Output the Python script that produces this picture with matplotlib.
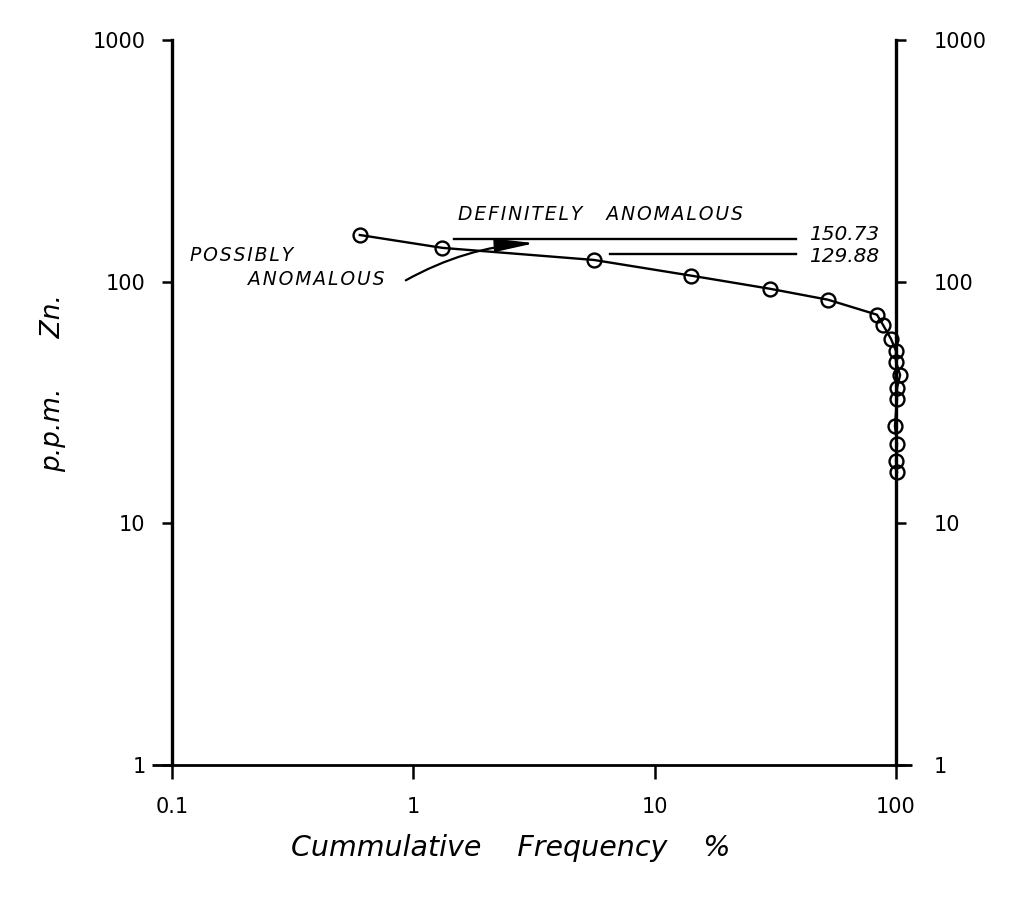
import matplotlib
matplotlib.use('Agg')
import matplotlib.pyplot as plt

# cumulative frequency (%) vs Zn (ppm)
cum_freq = [0.6, 1.32, 5.6, 14.1, 30.0, 52.3, 83.4, 88.3, 95.3, 100.0, 100.0,
            104.0, 101.0, 101.0, 99.0, 101.0, 100.0, 101.0]
zn_ppm = [156, 138, 123, 106, 93.5, 84.2, 73.0, 66.3, 58.0, 51.7, 46.6,
          41.1, 36.3, 32.7, 25.3, 21.3, 18.1, 16.3]

thresholds = [150.73, 129.88]
threshold_labels = ['150.73', '129.88']
threshold_from = [1.47, 6.5]   # where each threshold line starts (x)
threshold_to = 38.5
label_y = [157, 127]           # labels sit a touch off their lines

x_ticks = [0.1, 1, 10, 100]
x_ticklabels = ['0.1', '1', '10', '100']
y_ticks = [1, 10, 100, 1000]
y_ticklabels = ['1', '10', '100', '1000']

plt.rcParams['font.family'] = ['DejaVu Sans']


def spaced(s):
    # stencil lettering is widely spaced
    return '\u200a'.join(s)


fig = plt.figure(figsize=(10.35, 9.01), dpi=100)
ax = fig.add_axes([0.1662, 0.1509, 0.6995, 0.8047])
ax.set_xscale('log')
ax.set_yscale('log')
ax.set_xlim(0.1, 100)
ax.set_ylim(1, 1000)

ax.spines['top'].set_visible(False)
ax.spines['bottom'].set_visible(False)
ax.spines['left'].set_linewidth(2.4)
ax.spines['right'].set_linewidth(2.4)
# bottom line runs a bit past both side axes
ax.plot([-0.028, 1.022], [0, 0], transform=ax.transAxes, color='k', lw=2.0,
        clip_on=False, solid_capstyle='butt')

ax.set_xticks(x_ticks)
ax.set_xticklabels(x_ticklabels)
ax.set_yticks(y_ticks)
ax.set_yticklabels(y_ticklabels)
ax.minorticks_off()
ax.tick_params(axis='x', direction='out', length=10, width=1.8, pad=13,
               labelsize=15)
ax.tick_params(axis='y', direction='out', length=7, width=1.8, pad=12,
               labelsize=15, right=False)

ax2 = ax.twinx()
ax2.set_yscale('log')
ax2.set_ylim(1, 1000)
for s in ax2.spines.values():
    s.set_visible(False)
ax2.set_yticks(y_ticks)
ax2.set_yticklabels(y_ticklabels)
ax2.minorticks_off()
ax2.tick_params(axis='y', direction='out', length=7, width=1.8, pad=20,
                labelsize=15)

ax.plot(cum_freq, zn_ppm, color='k', lw=1.7, marker='o', mfc='none',
        mec='k', ms=10, mew=1.7, clip_on=False)

for i in range(len(thresholds)):
    ax.plot([threshold_from[i], threshold_to], [thresholds[i], thresholds[i]],
            color='k', lw=1.7)
    ax.text(43.5, label_y[i], threshold_labels[i], fontsize=14.5,
            style='italic', ha='left', va='center')

ax.text(5.97, 190, spaced('DEFINITELY') + '    ' + spaced('ANOMALOUS'),
        fontsize=13.5, style='italic', ha='center', va='center')
ax.text(0.1188, 128.3, spaced('POSSIBLY'), fontsize=13.5, style='italic',
        ha='left', va='center')
ax.text(0.2066, 102, spaced('ANOMALOUS'), fontsize=13.5, style='italic',
        ha='left', va='center')
ax.annotate('', xy=(3.27, 144.5), xytext=(0.909, 100),
            arrowprops=dict(arrowstyle='-|>,head_length=1.2,head_width=0.2',
                            connectionstyle='arc3,rad=-0.12',
                            color='k', lw=1.6, mutation_scale=20))

fig.text(511 / 1035, 1 - 848 / 901, 'Cummulative    Frequency    %',
         fontsize=20.5, style='italic', ha='center', va='center')
fig.text(53 / 1035, 1 - 383 / 901, 'p.p.m.      Zn.', fontsize=19,
         style='italic', rotation=90, ha='center', va='center')

fig.savefig('out.png', dpi=100)
